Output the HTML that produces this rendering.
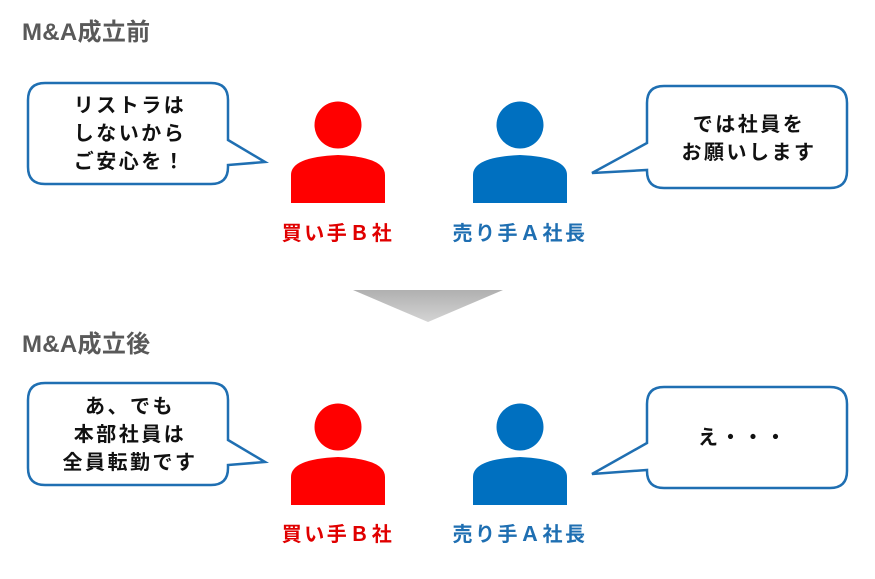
<!DOCTYPE html>
<html><head><meta charset="utf-8"><style>
body{margin:0;background:#fff;width:875px;height:574px;overflow:hidden}
svg text{font-family:"Liberation Sans","Noto Sans CJK JP",sans-serif;font-weight:bold}
</style></head><body>
<svg width="875" height="574" viewBox="0 0 875 574">
<defs><linearGradient id="g" x1="0" y1="0" x2="0" y2="1"><stop offset="0" stop-color="#b0b0b0"/><stop offset="1" stop-color="#d4d4d4"/></linearGradient>
<g id="person"><circle cx="0" cy="0" r="23.5"/><path d="M-47,78 V50 Q-47,32 0,30 Q47,32 47,50 V78 Z"/></g></defs>
<g font-size="24" fill="#595959" letter-spacing="0.3"><text x="22" y="40">M&amp;A成立前</text><text x="22" y="352">M&amp;A成立後</text></g>
<polygon points="353,290 503,290 428,322" fill="url(#g)"/>
<g font-size="20" letter-spacing="2.5" text-anchor="middle">
<!-- top -->
<path d="M45,83 H211 Q228,83 228,100 V140 L265,162 L228,165 V167 Q228,184 211,184 H45 Q28,184 28,167 V100 Q28,83 45,83 Z" fill="#fff" stroke="#1f6fb2" stroke-width="2.5"/>
<g fill="#111"><text x="130" y="112">リストラは</text><text x="130" y="140">しないから</text><text x="130" y="168">ご安心を！</text></g>
<path d="M664,86 H830 Q847,86 847,103 V171 Q847,188 830,188 H664 Q647,188 647,171 V170 L592,173 L647,143 V103 Q647,86 664,86 Z" fill="#fff" stroke="#1f6fb2" stroke-width="2.5"/>
<g fill="#111"><text x="749" y="131">では社員を</text><text x="749" y="159">お願いします</text></g>
<use href="#person" x="338" y="125" fill="#ff0000"/>
<use href="#person" x="520" y="125" fill="#0070c0"/>
<text x="338" y="240" fill="#e00000">買い手Ｂ社</text>
<text x="520" y="240" fill="#1f6fb2">売り手Ａ社長</text>
<!-- bottom -->
<path d="M45,383 H211 Q228,383 228,400 V440 L265,462 L228,465 V468 Q228,485 211,485 H45 Q28,485 28,468 V400 Q28,383 45,383 Z" fill="#fff" stroke="#1f6fb2" stroke-width="2.5"/>
<g fill="#111"><text x="130" y="413">あ、でも</text><text x="130" y="441">本部社員は</text><text x="130" y="469">全員転勤です</text></g>
<path d="M664,387 H830 Q847,387 847,404 V471 Q847,488 830,488 H664 Q647,488 647,471 V470 L592,474 L647,443 V404 Q647,387 664,387 Z" fill="#fff" stroke="#1f6fb2" stroke-width="2.5"/>
<text x="743" y="444" fill="#111">え・・・</text>
<use href="#person" x="338" y="427" fill="#ff0000"/>
<use href="#person" x="520" y="427" fill="#0070c0"/>
<text x="338" y="541" fill="#e00000">買い手Ｂ社</text>
<text x="520" y="541" fill="#1f6fb2">売り手Ａ社長</text>
</g>
</svg>
</body></html>
